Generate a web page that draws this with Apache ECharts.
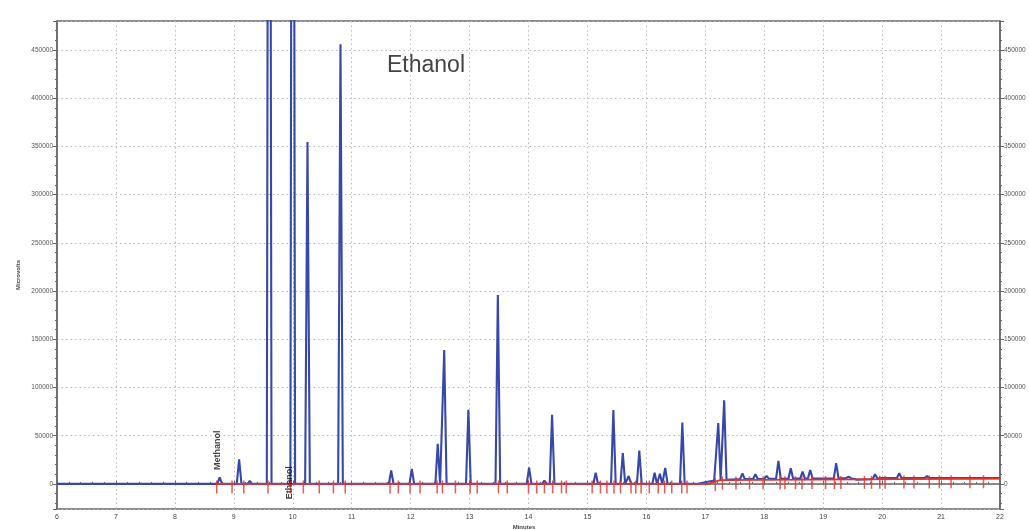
<!DOCTYPE html>
<html><head><meta charset="utf-8">
<script src="https://cdn.jsdelivr.net/npm/echarts@6/dist/echarts.min.js"></script>
<style>html,body{margin:0;padding:0;background:#fff}#c{width:1029px;height:530px}</style>
</head><body><div id="c"></div>
<script>
// ---- data ----
const peakTimes = [8.76, 9.09, 9.27, 9.60, 10.00, 10.25, 10.81, 11.67, 12.02, 12.46, 12.57, 12.98, 13.48, 14.01, 14.27, 14.40,
  15.14, 15.44, 15.60, 15.70, 15.88, 16.14, 16.23, 16.32, 16.61, 17.22, 17.32, 17.63, 17.85, 18.04, 18.24, 18.45, 18.65, 18.78,
  19.22, 19.43, 19.88, 20.29, 20.76];
const peakHeights = [6900, 25600, 3100, 1500000, 1500000, 354600, 456000, 13900, 15600, 41600, 138800, 77000, 196000, 17000, 3500, 71800,
  11600, 76500, 32000, 8200, 34700, 11600, 10500, 16700, 63600, 63000, 86700, 11000, 10000, 8300, 24000, 16300, 12800, 14500,
  21500, 7600, 10000, 11000, 8300];
const baselineTimes = [6, 16.85, 17.15, 17.6, 19.5, 19.56, 19.8, 20.0, 22];
const baselineValues = [0, 0, 3500, 5000, 6000, 4500, 4800, 6000, 6000];
const integrationLineTimes = [8.70, 17.05, 17.25, 22];
const integrationLineValues = [0, 0, 4000, 5500];
const integrationMarkTimes = [8.71, 8.97, 9.17, 9.58, 9.96, 10.18, 10.45, 10.69, 10.89, 11.65, 11.79, 11.99, 12.16, 12.45, 12.54,
  12.76, 13.01, 13.13, 13.49, 13.64, 14.00, 14.14, 14.27, 14.41, 14.56, 14.64, 15.08, 15.22, 15.33, 15.45, 15.56, 15.74, 15.82,
  15.91, 16.05, 16.20, 16.31, 16.43, 16.60, 16.69, 17.17, 17.29, 17.52, 17.75, 17.98, 18.27, 18.35, 18.53, 18.64, 18.81, 19.04,
  19.19, 19.30, 19.70, 19.82, 19.96, 20.05, 20.37, 20.54, 20.80, 20.97, 21.17, 21.49, 21.72];
const peakNames = ['Methanol', 'Ethanol'];
const axisTitleX = 'Minutes';
const axisTitleY = 'Microvolts';
const annotation = 'Ethanol';

function interp(ts, vs, t) {
  if (t <= ts[0]) return vs[0];
  for (let i = 1; i < ts.length; i++) {
    if (t <= ts[i]) { const f = (t - ts[i-1]) / (ts[i] - ts[i-1]); return vs[i-1] + f * (vs[i] - vs[i-1]); }
  }
  return vs[vs.length - 1];
}
const HW = 0.04;
const trace = baselineTimes.map((t, i) => [t, baselineValues[i]]);
peakTimes.forEach((t, i) => {
  trace.push([t - HW, interp(baselineTimes, baselineValues, t - HW)]);
  trace.push([t, peakHeights[i]]);
  trace.push([t + HW, interp(baselineTimes, baselineValues, t + HW)]);
});
trace.sort((a, b) => a[0] - b[0]);
const intLine = integrationLineTimes.map((t, i) => [t, integrationLineValues[i]]);
const intMarks = integrationMarkTimes.map(t => [t, interp(integrationLineTimes, integrationLineValues, t)]);

const BLUE = '#3848aa', RED = '#e8302a', AX = '#666';
const yCommon = {
  type: 'value', min: -26000, max: 480000, splitNumber: 10, minInterval: 50000, maxInterval: 50000,
  axisLine: { show: true, lineStyle: { color: AX, width: 1.5 } },
  axisTick: { show: true, length: 4, lineStyle: { color: AX } },
  minorTick: { show: true, splitNumber: 5, length: 2, lineStyle: { color: AX } },
  axisLabel: { fontSize: 6.5, color: '#555', margin: 4, showMinLabel: false, showMaxLabel: false, formatter: v => String(v) }
};
const chart = echarts.init(document.getElementById('c'), null, { renderer: 'canvas' });
chart.setOption({
  animation: false,
  backgroundColor: '#fff',
  grid: { left: 57, right: 29, top: 21, bottom: 21, show: true, borderColor: AX, borderWidth: 1.5 },
  xAxis: {
    type: 'value', min: 6, max: 22, interval: 1,
    axisLine: { show: true, lineStyle: { color: AX, width: 1.5 } },
    axisTick: { show: true, length: 3, inside: true, lineStyle: { color: AX } },
    minorTick: { show: true, splitNumber: 5, length: 2, lineStyle: { color: AX } },
    axisLabel: { fontSize: 7, color: '#444', margin: 5, formatter: v => String(v) },
    splitLine: { show: true, lineStyle: { color: '#bbb', type: [1.5, 3], width: 1 } }
  },
  yAxis: [
    Object.assign({}, yCommon, { position: 'left',
      splitLine: { show: true, lineStyle: { color: '#bbb', type: [1.5, 3], width: 1 } } }),
    Object.assign({}, yCommon, { position: 'right', splitLine: { show: false } })
  ],
  series: [
    { type: 'line', data: trace, showSymbol: false, symbol: 'none', lineStyle: { color: BLUE, width: 2.1 }, z: 2, clip: true },
    { type: 'line', data: intLine, showSymbol: false, symbol: 'none', lineStyle: { color: RED, width: 1.8 }, z: 3 },
    { type: 'scatter', data: intMarks, symbol: 'rect', symbolSize: [1.5, 13], symbolOffset: [0, 3],
      itemStyle: { color: RED }, z: 4 },
    { type: 'scatter', symbolSize: 0, z: 5,
      data: [{ value: [8.73, 35000], name: peakNames[0] }, { value: [9.94, 1200], name: peakNames[1] }],
      label: { show: true, position: 'inside', rotate: 90, formatter: p => p.name, fontSize: 9, fontWeight: 'bold',
        color: '#111', fontFamily: 'Liberation Sans' } }
  ],
  graphic: [
    { type: 'text', left: 387, top: 54, style: { text: annotation, fontSize: 23, fill: '#444', fontFamily: 'Liberation Sans' } },
    { type: 'text', x: 18, y: 275, rotation: Math.PI / 2,
      style: { text: axisTitleY, fontSize: 6, fontWeight: 'bold', fill: '#444', align: 'center', verticalAlign: 'middle' } },
    { type: 'text', x: 524, y: 527, style: { text: axisTitleX, fontSize: 6, fontWeight: 'bold', fill: '#444', align: 'center', verticalAlign: 'middle' } }
  ]
});
</script></body></html>
